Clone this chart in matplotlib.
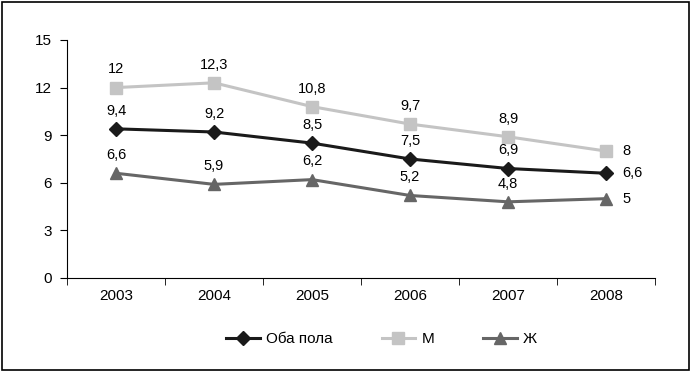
import numpy as np
import matplotlib.pyplot as plt
from matplotlib.patches import Rectangle

plt.rcParams['font.family'] = ['Liberation Sans', 'DejaVu Sans']

years = ['2003', '2004', '2005', '2006', '2007', '2008']
both = [9.4, 9.2, 8.5, 7.5, 6.9, 6.6]
men = [12, 12.3, 10.8, 9.7, 8.9, 8]
women = [6.6, 5.9, 6.2, 5.2, 4.8, 5]


def fmt(v):
    s = ('%g' % v).replace('.', ',')
    return s


fig = plt.figure(figsize=(6.96, 3.77), dpi=100)
ax = fig.add_axes([0.0963, 0.2626, 0.8448, 0.6314])

x = np.arange(len(years))
series = [
    (both, 'Оба пола', '#1a1a1a', 'D', 7.5),
    (men, 'М', '#c4c4c4', 's', 9),
    (women, 'Ж', '#666666', '^', 8.5),
]
for vals, name, col, mk, ms in series:
    ax.plot(x, vals, color=col, marker=mk, markersize=ms, linewidth=2.2, label=name)
    for i, v in enumerate(vals):
        if i == len(vals) - 1:
            ax.annotate(fmt(v), (x[i], v), xytext=(12, 0), textcoords='offset points',
                        ha='left', va='center', fontsize=10.5)
        else:
            ax.annotate(fmt(v), (x[i], v), xytext=(0, 8), textcoords='offset points',
                        ha='center', va='bottom', fontsize=10.5)

ax.set_xlim(-0.5, len(years) - 0.5)
ax.set_ylim(0, 15)
ax.set_yticks([0, 3, 6, 9, 12, 15])
ax.set_xticks(x)
ax.set_xticklabels(years, fontsize=11)
ax.tick_params(axis='x', length=0, pad=8)
ax.set_xticks(np.arange(len(years) + 1) - 0.5, minor=True)
ax.tick_params(axis='x', which='minor', length=5, direction='out')
ax.tick_params(axis='y', length=5, direction='out', labelsize=11, pad=6)
for s in ['top', 'right']:
    ax.spines[s].set_visible(False)

ax.legend(loc='upper center', bbox_to_anchor=(0.535, -0.17), ncol=3, frameon=False,
          fontsize=11, handlelength=2.2, columnspacing=3.2, handletextpad=0.4)

fig.patches.append(Rectangle((2 / 696, 1 - 370 / 377), 687 / 696, 368 / 377,
                             transform=fig.transFigure, fill=False, edgecolor='black',
                             linewidth=1.2))

fig.savefig('out.png', dpi=100)
